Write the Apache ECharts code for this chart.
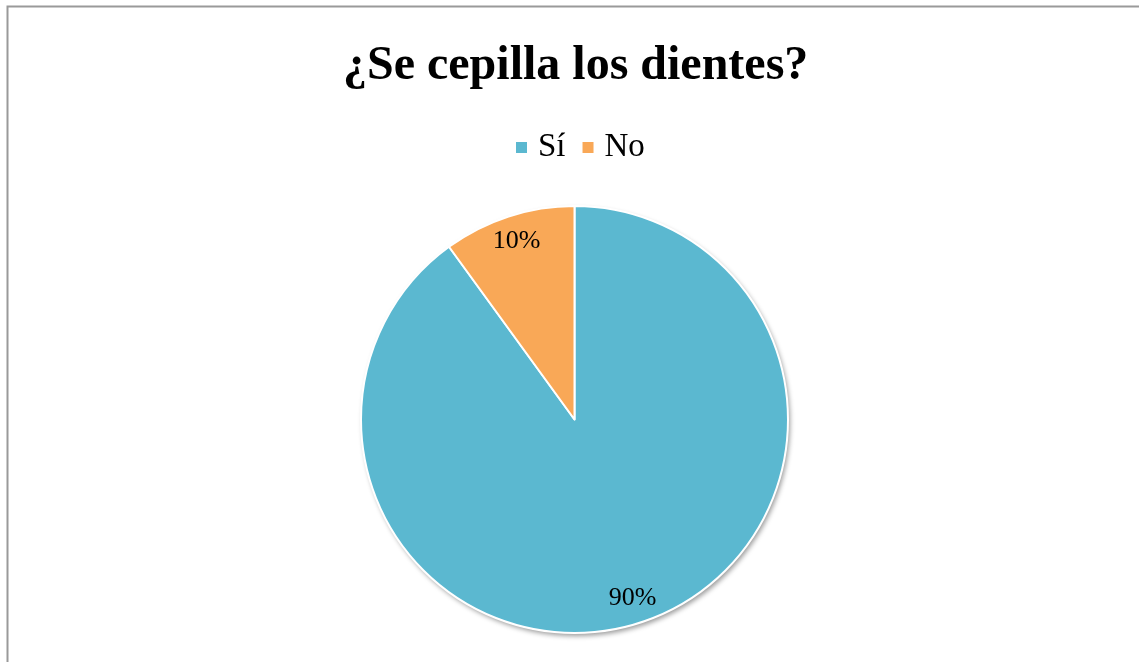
<!DOCTYPE html>
<html>
<head>
<meta charset="utf-8">
<script src="https://cdn.jsdelivr.net/npm/echarts@6/dist/echarts.min.js"></script>
<style>
  html, body { margin: 0; padding: 0; background: #fff; }
  #chart { width: 1139px; height: 662px; }
</style>
</head>
<body>
<div id="chart"></div>
<script>
// Survey answers: does the respondent brush their teeth?
const categories = ['Sí', 'No'];
const percentages = [90, 10];
const sliceColors = ['#5BB8D0', '#F9A857'];

const sliceData = categories.map((name, i) => ({
  name: name,
  value: percentages[i],
  itemStyle: { color: sliceColors[i] }
}));
// same values, no fill: only carries the percentage labels
const labelData = categories.map((name, i) => ({ name: name, value: percentages[i] }));
const total = percentages.reduce((a, b) => a + b, 0);

const serif = '"Liberation Serif", "Times New Roman", serif';
const center = [574.5, 419.5];
const radius = 213.5;

const chart = echarts.init(document.getElementById('chart'), null, { renderer: 'canvas' });
chart.setOption({
  backgroundColor: '#ffffff',
  animation: false,
  color: sliceColors,
  graphic: [{
    type: 'rect',
    shape: { x: 7.5, y: 6.5, width: 1200, height: 700 },
    style: { fill: 'none', stroke: '#9a9a9a', lineWidth: 2 },
    silent: true
  }],
  title: {
    text: '¿Se cepilla los dientes?',
    left: 343,
    top: 43,
    padding: 0,
    textStyle: { fontFamily: serif, fontWeight: 'bold', fontSize: 48, color: '#000' }
  },
  legend: {
    data: categories.map(name => ({ name: name, icon: 'rect' })),
    top: 131,
    left: 516,
    padding: 0,
    itemWidth: 11,
    itemHeight: 11,
    itemGap: 17,
    itemStyle: { borderWidth: 0 },
    textStyle: { fontFamily: serif, fontSize: 33, color: '#000', padding: [0, 0, 0, 6] }
  },
  series: [{
    // soft drop shadow under the whole disc
    type: 'pie',
    center: center,
    radius: radius,
    z: 1,
    data: [{ name: 'total', value: total, itemStyle: { color: '#ffffff' } }],
    itemStyle: {
      shadowBlur: 5,
      shadowOffsetX: 2,
      shadowOffsetY: 3,
      shadowColor: 'rgba(0,0,0,0.4)'
    },
    label: { show: false },
    labelLine: { show: false },
    emphasis: { disabled: true },
    silent: true,
    legendHoverLink: false
  }, {
    // the visible slices
    type: 'pie',
    center: center,
    radius: radius,
    z: 2,
    startAngle: 90,
    clockwise: true,
    data: sliceData,
    label: { show: false },
    labelLine: { show: false },
    itemStyle: { borderColor: '#ffffff', borderWidth: 2 },
    emphasis: { disabled: true },
    silent: true
  }, {
    // percentage labels placed near the rim
    type: 'pie',
    center: center,
    radius: [156, radius],
    z: 3,
    startAngle: 90,
    clockwise: true,
    data: labelData,
    itemStyle: { color: 'rgba(0,0,0,0)', borderWidth: 0 },
    label: {
      show: true,
      position: 'inside',
      formatter: '{c}%',
      fontFamily: serif,
      fontSize: 26,
      color: '#000'
    },
    labelLine: { show: false },
    emphasis: { disabled: true },
    silent: true
  }]
});
</script>
</body>
</html>
